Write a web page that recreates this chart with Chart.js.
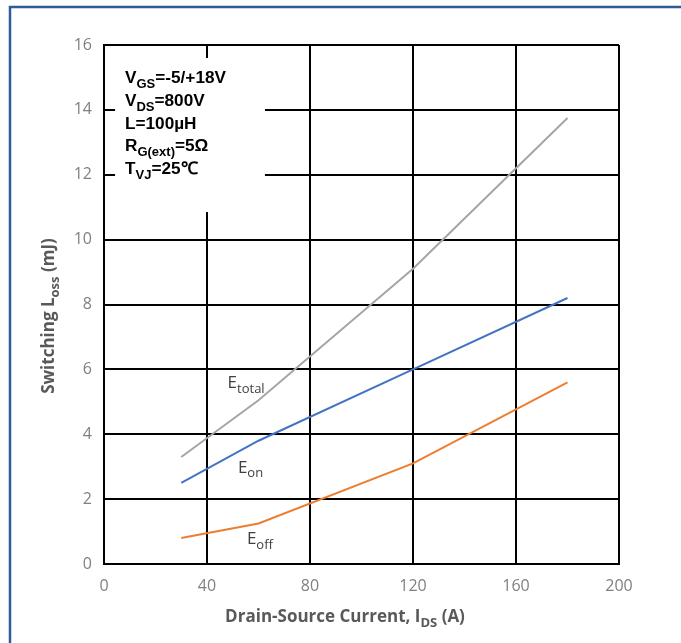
<!DOCTYPE html>
<html>
<head>
<meta charset="utf-8">
<script src="https://cdn.jsdelivr.net/npm/chart.js@4/dist/chart.umd.min.js"></script>
<style>
  html, body { margin: 0; padding: 0; background: #fff; }
  #wrap { position: relative; width: 681px; height: 643px; }
  canvas { position: absolute; left: 0; top: 0; }
</style>
</head>
<body>
<div id="wrap"><canvas id="lossChart" width="681" height="643"></canvas></div>
<script>
// drain-source current (A) and switching energies (mJ)
const currents = [30, 60, 120, 180];
const eTotal = [3.3, 5.05, 9.1, 13.75];
const eOn = [2.5, 3.8, 6.0, 8.2];
const eOff = [0.8, 1.25, 3.1, 5.6];

const xTicks = [0, 40, 80, 120, 160, 200];
const yTicks = [0, 2, 4, 6, 8, 10, 12, 14, 16];

// test conditions, [text, subscript] pairs per line
const conditions = [
  [['V', false], ['GS', true], ['=-5/+18V', false]],
  [['V', false], ['DS', true], ['=800V', false]],
  [['L=100\u00b5H', false]],
  [['R', false], ['G(ext)', true], ['=5\u03a9', false]],
  [['T', false], ['VJ', true], ['=25\u2103', false]]
];

const seriesLabels = [
  { parts: [['E', false], ['total', true]], at: [48, 5.6] },
  { parts: [['E', false], ['on', true]], at: [52, 3.0] },
  { parts: [['E', false], ['off', true]], at: [55.5, 0.8] }
];

const ctx = document.getElementById('lossChart').getContext('2d');

// write a run of text with subscripts, starting at x (or centred on x)
const drawParts = (c, parts, x, y, size, weight, color, center, family) => {
  const subSize = Math.round(size * 0.74);
  const fam = family || '"Liberation Sans", Arial, sans-serif';
  const fontFor = sub => `${weight} ${sub ? subSize : size}px ${fam}`;
  let total = 0;
  parts.forEach(([t, sub]) => { c.font = fontFor(sub); total += c.measureText(t).width; });
  let cx = center ? x - total / 2 : x;
  c.fillStyle = color;
  c.textBaseline = 'alphabetic';
  c.textAlign = 'left';
  parts.forEach(([t, sub]) => {
    c.font = fontFor(sub);
    c.fillText(t, cx, sub ? y + size * 0.28 : y);
    cx += c.measureText(t).width;
  });
};

const extras = {
  id: 'extras',
  afterDraw(chart) {
    const c = chart.ctx;
    const xs = chart.scales.x;
    const ys = chart.scales.y;
    c.save();

    // outer frame
    c.strokeStyle = '#2f5c98';
    c.lineWidth = 2.5;
    c.beginPath();
    c.moveTo(681, 7);
    c.lineTo(10, 7);
    c.lineTo(10, 643);
    c.stroke();

    // conditions box
    const bx = xs.getPixelForValue(4.3), by = ys.getPixelForValue(15.6);
    c.fillStyle = '#fff';
    c.fillRect(bx, by, xs.getPixelForValue(62.5) - bx, ys.getPixelForValue(10.85) - by);
    conditions.forEach((line, i) => {
      drawParts(c, line, 125, 83 + i * 22.8, 17.2, 'bold', '#000', false);
    });

    // curve names
    seriesLabels.forEach(l => {
      drawParts(c, l.parts, xs.getPixelForValue(l.at[0]), ys.getPixelForValue(l.at[1]) + 6,
        17, 'normal', '#404040', false, '"Open Sans", sans-serif');
    });

    // axis titles
    const titleParts = [['Drain-Source Current, I', false], ['DS', true], [' (A)', false]];
    drawParts(c, titleParts, 345, 622, 17, 'bold', '#595959', true, '"Open Sans", sans-serif');
    c.translate(54, 316);
    c.rotate(-Math.PI / 2);
    drawParts(c, [['Switching L', false], ['oss', true], [' (mJ)', false]], 0, 0, 17, 'bold', '#595959', true,
      '"Open Sans", sans-serif');
    c.restore();
  }
};

const line = (label, data, color) => ({
  label,
  data: currents.map((x, i) => ({ x, y: data[i] })),
  borderColor: color,
  backgroundColor: color,
  borderWidth: 2,
  pointRadius: 0,
  tension: 0
});

const tickFont = { family: '"Open Sans", sans-serif', size: 16 };

new Chart(ctx, {
  type: 'line',
  data: {
    datasets: [
      line('Etotal', eTotal, '#a5a5a5'),
      line('Eon', eOn, '#4472c4'),
      line('Eoff', eOff, '#ed7d31')
    ]
  },
  options: {
    responsive: false,
    animation: false,
    layout: { padding: { left: 34, top: 45, right: 62, bottom: 24 } },
    plugins: { legend: { display: false }, tooltip: { enabled: false } },
    scales: {
      x: {
        type: 'linear',
        min: xTicks[0],
        max: xTicks[xTicks.length - 1],
        afterBuildTicks: s => { s.ticks = xTicks.map(v => ({ value: v })); },
        afterFit: s => { s.height = 55; },
        grid: { color: '#000', lineWidth: 2, drawTicks: false },
        border: { color: '#000', width: 2 },
        ticks: { color: '#808080', padding: 13, font: tickFont }
      },
      y: {
        type: 'linear',
        min: yTicks[0],
        max: yTicks[yTicks.length - 1],
        afterBuildTicks: s => { s.ticks = yTicks.map(v => ({ value: v })); },
        afterFit: s => { s.width = 70; },
        grid: { color: '#000', lineWidth: 2, drawTicks: false },
        border: { color: '#000', width: 2 },
        ticks: { color: '#808080', padding: 12, font: tickFont }
      }
    }
  },
  plugins: [extras]
});
</script>
</body>
</html>
